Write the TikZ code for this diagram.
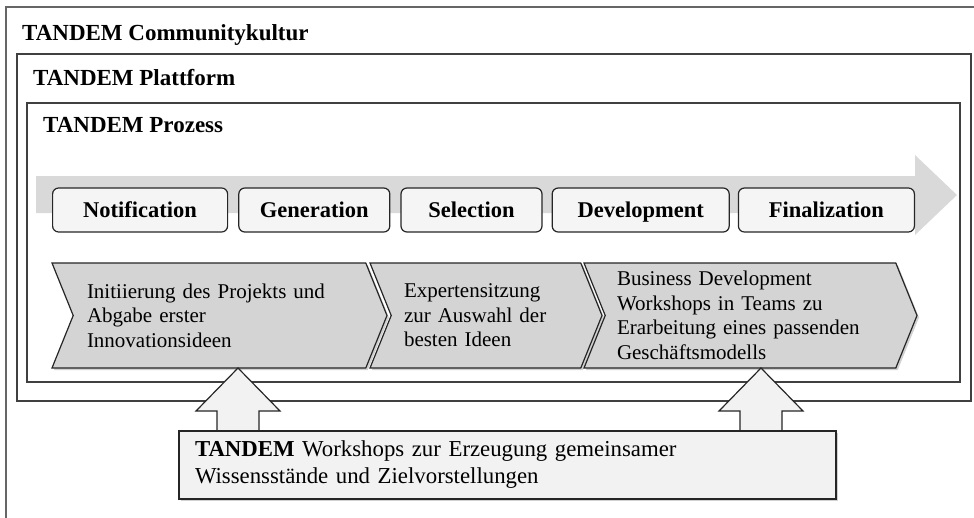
\documentclass[tikz,border=0pt]{standalone}
\usepackage{fontspec}
\setmainfont{Liberation Serif}
\usepackage{tikz}
\usetikzlibrary{positioning, shapes.symbols, shadows}

\tikzset{
  frame/.style={draw=black!75, line width=1.6pt},
  title/.style={anchor=base west, inner sep=0pt, font=\fontsize{23}{27}\selectfont\bfseries},
  phase/.style={draw=black!85, fill=black!4, rounded corners=6pt, line width=1.2pt,
    minimum height=44pt, inner sep=0pt, text height=15pt, text depth=0pt,
    font=\fontsize{22.5}{27}\selectfont\bfseries},
  stage/.style={signal, signal from=west, signal to=east, signal pointer angle=136,
    draw=black!85, fill=black!17, line width=1.2pt, minimum height=105pt, inner sep=0pt,
    align=left, font=\fontsize{21}{24.5}\selectfont,
    drop shadow={shadow xshift=2pt, shadow yshift=-2pt, opacity=.3, fill=black!60}},
  upblock/.style={draw=black!85, fill=black!5, line width=1.2pt},
  workbox/.style={draw=black!85, fill=black!5, line width=1.2pt, inner xsep=16pt,
    align=left, font=\fontsize{22.8}{27}\selectfont,
    drop shadow={shadow xshift=2pt, shadow yshift=-2pt, opacity=.3, fill=black!60}}
}

\begin{document}
\begin{tikzpicture}[x=1pt, y=-1pt]
    \useasboundingbox (0,0) rectangle (974,517);

    % Frames
    \draw[frame, draw=black!60] (6,525) -- (6,7) -- (985,7);
    \draw[frame] (17,54) rectangle (971,401);
    \draw[frame] (27,103) rectangle (960,382);

    % Titles
    \node[title] (kultur) at (22,40) {TANDEM Communitykultur};
    \node[title] (plattform) at (33,85) {TANDEM Plattform};
    \node[title] (prozess) at (43,132) {TANDEM Prozess};

    % Process arrow
    \fill[black!15] (36,176) -- (915,176) -- (915,155) -- (957,195)
        -- (915,235) -- (915,213) -- (36,213) -- cycle;

    % Phases
    \node[phase, minimum width=175pt, anchor=west] (notif) at (52,210) {Notification};
    \node[phase, minimum width=151pt] (gen) [right=10pt of notif] {Generation};
    \node[phase, minimum width=141pt] (sel) [right=10pt of gen] {Selection};
    \node[phase, minimum width=177pt] (dev) [right=9pt of sel] {Development};
    \node[phase, minimum width=176pt] (fin) [right=8pt of dev] {Finalization};

    % Stages
    \node[stage, minimum width=335pt, text width=265pt] (init) at (219.5,315.5)
        {Initiierung des Projekts und\\Abgabe erster\\Innovationsideen};
    \node[stage, minimum width=232pt, text width=164pt] (expert) at (486,315.5)
        {Expertensitzung\\zur Auswahl der\\besten Ideen};
    \node[stage, minimum width=333pt, text width=267pt] (busdev) at (750.5,315.5)
        {Business Development\\Workshops in Teams zu\\Erarbeitung eines passenden\\Geschäftsmodells};

    % Workshop arrows
    \foreach \ax in {238,761}
        \draw[upblock] (\ax-21,433) -- (\ax-21,411) -- (\ax-42,411) -- (\ax,368)
            -- (\ax+42,411) -- (\ax+21,411) -- (\ax+21,433);

    % Workshops
    \node[workbox, minimum width=657pt, minimum height=68pt, text width=625pt] (ws) at (507.5,465)
        {\textbf{TANDEM} Workshops zur Erzeugung gemeinsamer\\Wissensstände und Zielvorstellungen};

\end{tikzpicture}
\end{document}
